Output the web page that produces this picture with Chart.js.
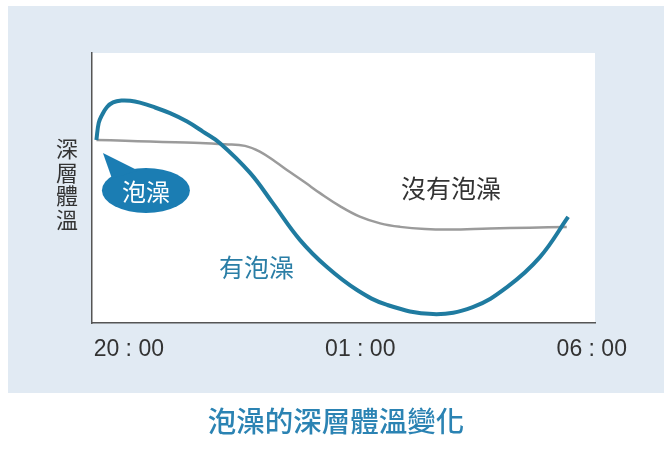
<!DOCTYPE html>
<html>
<head>
<meta charset="utf-8">
<script src="https://cdn.jsdelivr.net/npm/chart.js@4"></script>
<style>html,body{margin:0;padding:0;background:#fff}</style>
</head>
<body>
<canvas id="c" width="672" height="450"></canvas>
<script>
// hours after 20:00, relative core temperature (0 = bottom of plot, 100 = top)
const hoursBath = [-0.70, -0.65, -0.58, -0.47, -0.34, -0.15, 0.03, 0.24, 0.52, 0.89, 1.26, 1.60, 1.97, 2.62, 3.11, 3.70, 4.28, 4.93, 5.58, 6.57, 7.43, 8.17, 8.88, 9.49];
const tempBath  = [67.8, 74.1, 77.0, 80.0, 81.7, 82.4, 82.3, 81.6, 80.1, 77.7, 74.6, 70.9, 66.6, 55.6, 44.4, 30.7, 20.7, 12.2, 6.7, 3.3, 5.9, 13.3, 24.4, 39.3];
const hoursNoBath = [-0.70, -0.08, 0.46, 1.00, 1.54, 2.08, 2.51, 2.83, 3.16, 3.48, 3.81, 4.13, 4.56, 4.99, 5.43, 5.86, 6.40, 6.94, 7.80, 8.66, 9.46];
const tempNoBath  = [67.8, 67.5, 67.2, 66.9, 66.7, 66.2, 65.6, 63.5, 59.8, 55.9, 52.0, 48.1, 43.3, 39.4, 36.9, 35.6, 34.8, 34.6, 35.0, 35.3, 35.6];
const tickHours = [0, 5, 10];
const tickLabels = ['20 : 00', '01 : 00', '06 : 00'];
const seriesNames = ['有泡澡', '沒有泡澡'];
const yAxisTitle = '深層體溫';
const chartTitle = '泡澡的深層體溫變化';
const bubbleText = '泡澡';

const CJK = '"Noto Sans CJK TC", "Noto Sans CJK SC", sans-serif';

function toPoints(xs, ys) {
  return xs.map((x, i) => ({ x: x, y: ys[i] }));
}

const decor = {
  id: 'decor',
  beforeDraw(chart) {
    const { ctx, chartArea: a } = chart;
    ctx.save();
    ctx.fillStyle = '#fff';
    ctx.fillRect(0, 0, chart.width, chart.height);
    ctx.fillStyle = '#e1eaf3';
    ctx.fillRect(8, 6, 656, 387);
    ctx.fillStyle = '#fff';
    ctx.fillRect(a.left, a.top, a.right - a.left, a.bottom - a.top);
    ctx.restore();
  },
  afterDraw(chart) {
    const { ctx, scales: { x, y } } = chart;
    ctx.save();
    ctx.textAlign = 'center';
    ctx.textBaseline = 'middle';

    // stacked y axis title
    ctx.fillStyle = '#333';
    ctx.font = '22px ' + CJK;
    [...yAxisTitle].forEach((ch, i) => ctx.fillText(ch, 67, 149 + i * 23.5));

    // series labels
    ctx.font = '25px ' + CJK;
    ctx.fillStyle = '#333';
    ctx.fillText(seriesNames[1], x.getPixelForValue(6.96), y.getPixelForValue(50));
    ctx.fillStyle = '#2a7ea6';
    ctx.fillText(seriesNames[0], x.getPixelForValue(2.76), y.getPixelForValue(20.4));

    // speech bubble
    const bx = x.getPixelForValue(0.37), by = y.getPixelForValue(49.1);
    ctx.fillStyle = '#1b7db3';
    ctx.beginPath();
    ctx.ellipse(bx, by, 44, 22.5, 0, 0, Math.PI * 2);
    ctx.fill();
    ctx.beginPath();
    ctx.moveTo(bx - 43, by - 37.5);
    ctx.lineTo(bx - 34, by - 12);
    ctx.lineTo(bx - 8, by - 20);
    ctx.closePath();
    ctx.fill();
    ctx.fillStyle = '#fff';
    ctx.font = '24px ' + CJK;
    ctx.fillText(bubbleText, bx, by + 1);

    // title below panel
    ctx.fillStyle = '#2b83b3';
    ctx.font = '500 28.5px ' + CJK;
    ctx.fillText(chartTitle, 336, 421);
    ctx.restore();
  }
};

new Chart(document.getElementById('c'), {
  type: 'line',
  data: {
    datasets: [
      {
        label: seriesNames[0],
        data: toPoints(hoursBath, tempBath),
        borderColor: '#1f7ba0',
        borderWidth: 4,
        pointRadius: 0,
        tension: 0.4,
        fill: false
      },
      {
        label: seriesNames[1],
        data: toPoints(hoursNoBath, tempNoBath),
        borderColor: '#9b9b9b',
        borderWidth: 2.5,
        pointRadius: 0,
        tension: 0.4,
        fill: false
      }
    ]
  },
  options: {
    responsive: false,
    animation: false,
    devicePixelRatio: 1,
    layout: { padding: { left: 92, top: 53, right: 77, bottom: 57 } },
    plugins: { legend: { display: false }, tooltip: { enabled: false } },
    scales: {
      x: {
        type: 'linear',
        min: -0.795,
        max: 10.07,
        grid: { display: false, drawTicks: false },
        border: { display: true, color: '#555', width: 1.5 },
        afterBuildTicks(s) { s.ticks = tickHours.map(v => ({ value: v })); },
        afterFit(s) { s.height = 70; },
        ticks: {
          padding: 13,
          color: '#333',
          autoSkip: false,
          maxRotation: 0,
          font: { family: '"Liberation Sans", Arial, sans-serif', size: 23 },
          callback: (v, i) => tickLabels[i]
        }
      },
      y: {
        min: 0,
        max: 100,
        ticks: { display: false },
        grid: { display: false, drawTicks: false },
        border: { display: true, color: '#555', width: 1.5 },
        afterFit(s) { s.width = 0; }
      }
    }
  },
  plugins: [decor]
});
</script>
</body>
</html>
